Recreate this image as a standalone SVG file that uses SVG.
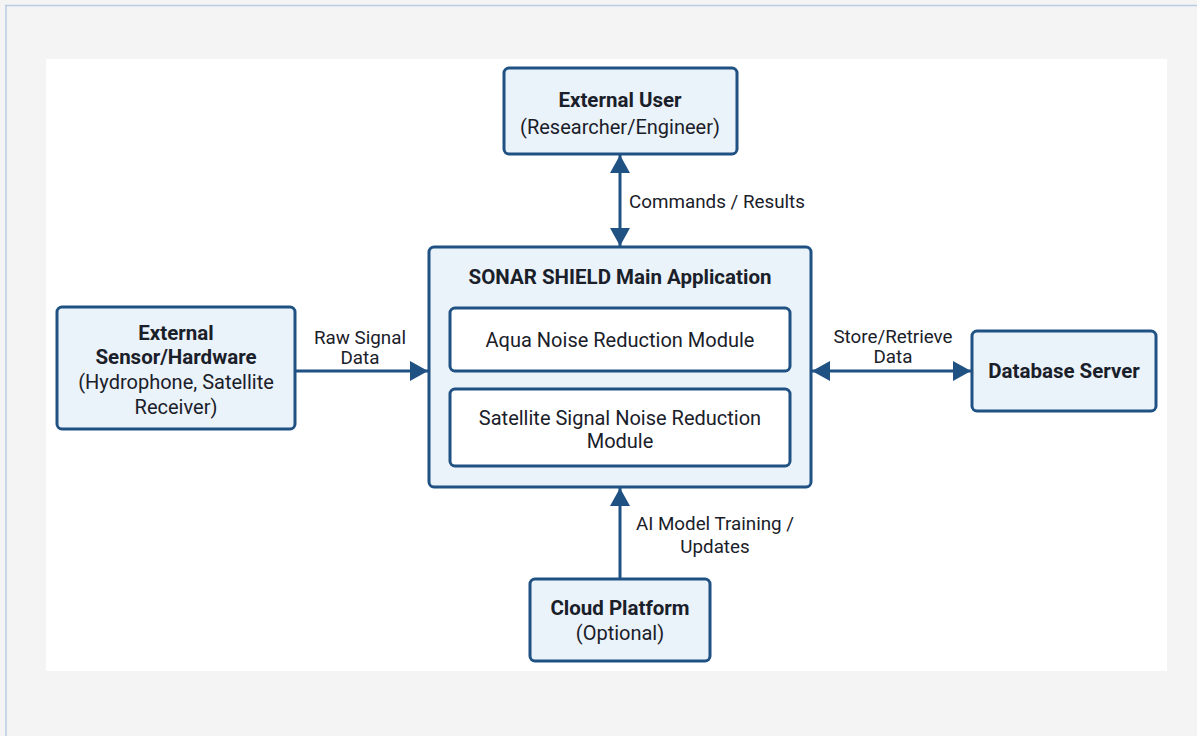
<svg xmlns="http://www.w3.org/2000/svg" width="1197" height="736" viewBox="0 0 1197 736">
  <style>
    .box { fill: #eaf2fa; stroke: #1f5183; stroke-width: 3; }
    .inner { fill: #ffffff; stroke: #1f5183; stroke-width: 3; }
    .link { stroke: #1f5183; stroke-width: 3; fill: none; }
    text { font-family: Roboto, "Liberation Sans", sans-serif; fill: #1a2029; text-anchor: middle; }
    .b { font-weight: bold; font-size: 20.5px; }
    .n { font-size: 20px; }
    .lbl { font-size: 18.8px; }
  </style>
  <defs>
    <marker id="arr" viewBox="0 0 18 20" refX="18" refY="10" markerWidth="18" markerHeight="20" markerUnits="userSpaceOnUse" orient="auto-start-reverse">
      <path d="M0,0 L18,10 L0,20 z" fill="#1f5183"/>
    </marker>
  </defs>

  <!-- page background and frame -->
  <rect x="0" y="0" width="1197" height="736" fill="#f4f4f4"/>
  <line x1="5" y1="5.5" x2="1197" y2="5.5" stroke="#b8cce4" stroke-width="1.5"/>
  <line x1="6" y1="5" x2="6" y2="736" stroke="#b8cce4" stroke-width="1.5"/>
  <rect x="46" y="59" width="1121" height="612" fill="#ffffff"/>

  <!-- connectors -->
  <g id="connectors">
    <line class="link" x1="620" y1="155" x2="620" y2="246" marker-start="url(#arr)" marker-end="url(#arr)"/>
    <line class="link" x1="296" y1="371" x2="428" y2="371" marker-end="url(#arr)"/>
    <line class="link" x1="812" y1="371" x2="971" y2="371" marker-start="url(#arr)" marker-end="url(#arr)"/>
    <line class="link" x1="620" y1="578" x2="620" y2="488" marker-end="url(#arr)"/>
    <text class="lbl" x="717" y="208">Commands / Results</text>
    <text class="lbl" x="360" y="344">Raw Signal</text>
    <text class="lbl" x="360" y="364">Data</text>
    <text class="lbl" x="893" y="343">Store/Retrieve</text>
    <text class="lbl" x="893" y="363">Data</text>
    <text class="lbl" x="715" y="530">AI Model Training /</text>
    <text class="lbl" x="715" y="553">Updates</text>
  </g>

  <g id="external-user">
    <rect class="box" x="504" y="68" width="233" height="86" rx="5"/>
    <text class="b" x="620" y="107">External User</text>
    <text class="n" x="620" y="134">(Researcher/Engineer)</text>
  </g>

  <g id="main-app">
    <rect class="box" x="429" y="247" width="382" height="240" rx="5"/>
    <text class="b" x="620" y="284">SONAR SHIELD Main Application</text>
  </g>

  <g id="aqua-module">
    <rect class="inner" x="450" y="308" width="340" height="63" rx="5"/>
    <text class="n" x="620" y="347">Aqua Noise Reduction Module</text>
  </g>

  <g id="satellite-module">
    <rect class="inner" x="450" y="389" width="340" height="77" rx="5"/>
    <text class="n" x="620" y="425">Satellite Signal Noise Reduction</text>
    <text class="n" x="620" y="448">Module</text>
  </g>

  <g id="external-sensor">
    <rect class="box" x="57" y="307" width="238" height="122" rx="5"/>
    <text class="b" x="176" y="340">External</text>
    <text class="b" x="176" y="364">Sensor/Hardware</text>
    <text class="n" x="176" y="389">(Hydrophone, Satellite</text>
    <text class="n" x="176" y="414">Receiver)</text>
  </g>

  <g id="database-server">
    <rect class="box" x="972" y="331" width="184" height="80" rx="5"/>
    <text class="b" x="1064" y="378">Database Server</text>
  </g>

  <g id="cloud-platform">
    <rect class="box" x="530" y="579" width="180" height="82" rx="5"/>
    <text class="b" x="620" y="615">Cloud Platform</text>
    <text class="n" x="620" y="640">(Optional)</text>
  </g>
</svg>
